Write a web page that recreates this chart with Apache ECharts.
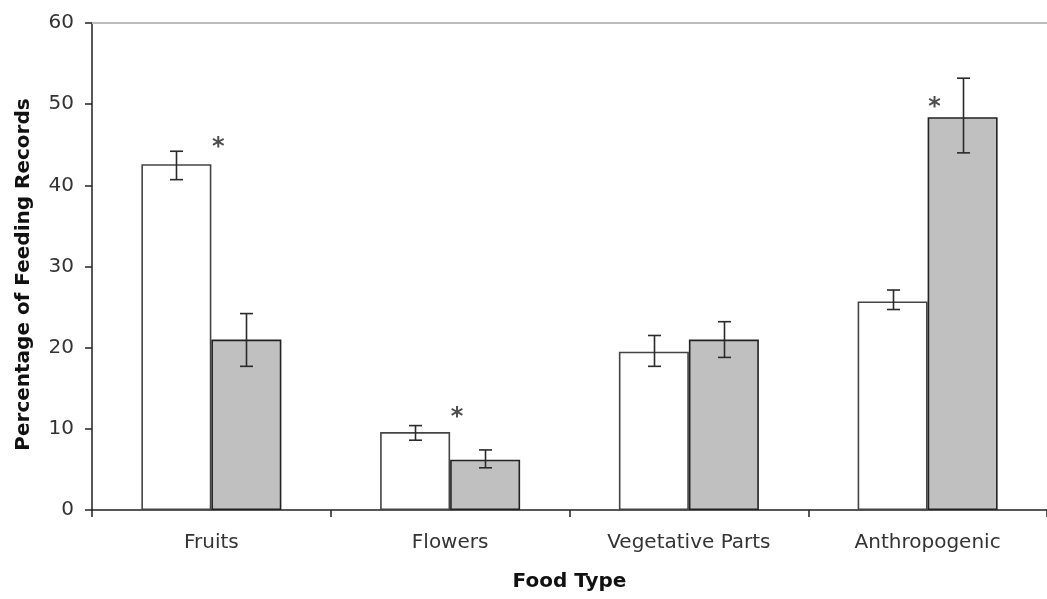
<!DOCTYPE html>
<html>
<head>
<meta charset="utf-8">
<script src="https://cdn.jsdelivr.net/npm/echarts@6/dist/echarts.min.js"></script>
<style>
  html, body { margin: 0; padding: 0; background: #fff; }
  #chart { width: 1047px; height: 599px; }
</style>
</head>
<body>
<div id="chart"></div>
<script>
// Food types on the x axis
const categories = ['Fruits', 'Flowers', 'Vegetative Parts', 'Anthropogenic'];

// First group (white bars): mean and error range
const whiteValues = [42.6, 9.6, 19.5, 25.7];
const whiteLow    = [40.7, 8.6, 17.7, 24.7];
const whiteHigh   = [44.2, 10.4, 21.5, 27.1];

// Second group (grey bars): mean and error range
const greyValues = [21.0, 6.2, 21.0, 48.4];
const greyLow    = [17.7, 5.2, 18.8, 44.0];
const greyHigh   = [24.2, 7.4, 23.2, 53.2];

// Height of the significance asterisk for each food type (null = none)
const starLevels = [45.2, 12.0, null, 50.2];

// Value axis range
const yMin = 0, yMax = 60, yStep = 10;

const BAR_W = 70;
const CAP_W = 13;
const FONT = "'DejaVu Sans', 'Liberation Sans', Arial, sans-serif";
const AXIS_COLOR = '#222';

function errorSeries(low, high, dir) {
  return {
    type: 'custom',
    z: 5,
    silent: true,
    data: categories.map((c, i) => [i, low[i], high[i]]),
    encode: { x: 0, y: [1, 2] },
    renderItem: function (params, api) {
      const i = api.value(0);
      const lo = api.coord([i, api.value(1)]);
      const hi = api.coord([i, api.value(2)]);
      const x = Math.round(lo[0] + dir * BAR_W / 2) + 0.5;
      const style = { stroke: '#2a2a2a', lineWidth: 1.6 };
      return {
        type: 'group',
        children: [
          { type: 'line', shape: { x1: x, y1: hi[1], x2: x, y2: lo[1] }, style: style },
          { type: 'line', shape: { x1: x - CAP_W / 2, y1: hi[1], x2: x + CAP_W / 2, y2: hi[1] }, style: style },
          { type: 'line', shape: { x1: x - CAP_W / 2, y1: lo[1], x2: x + CAP_W / 2, y2: lo[1] }, style: style }
        ]
      };
    }
  };
}

const chart = echarts.init(document.getElementById('chart'), null, { renderer: 'canvas' });

chart.setOption({
  animation: false,
  backgroundColor: '#fff',
  grid: { left: 92, top: 23, width: 956, height: 487, containLabel: false },
  xAxis: [
    {
      type: 'category',
      data: categories,
      position: 'bottom',
      axisLine: { lineStyle: { color: AXIS_COLOR, width: 1.5 } },
      axisTick: { show: true, length: 7, lineStyle: { color: AXIS_COLOR, width: 1.5 } },
      axisLabel: { fontFamily: FONT, fontSize: 20, color: '#333', margin: 23 },
      name: 'Food Type',
      nameLocation: 'middle',
      nameGap: 62,
      nameTextStyle: { fontFamily: FONT, fontSize: 20, fontWeight: 'bold', color: '#111' }
    },
    {
      type: 'category',
      data: categories,
      position: 'top',
      axisLine: { show: true, lineStyle: { color: '#bcbcbc', width: 2 } },
      axisTick: { show: false },
      axisLabel: { show: false }
    }
  ],
  yAxis: {
    type: 'value',
    min: yMin,
    max: yMax,
    interval: yStep,
    axisLine: { show: true, lineStyle: { color: AXIS_COLOR, width: 1.5 } },
    axisTick: { show: true, length: 7, lineStyle: { color: AXIS_COLOR, width: 1.5 } },
    splitLine: { show: false },
    axisLabel: { fontFamily: FONT, fontSize: 20, color: '#333', margin: 18 },
    name: 'Percentage of Feeding Records',
    nameLocation: 'middle',
    nameRotate: 90,
    nameGap: 58,
    nameTextStyle: { fontFamily: FONT, fontSize: 20, fontWeight: 'bold', color: '#111', padding: [0, 16, 0, 0] }
  },
  series: [
    {
      type: 'bar',
      data: whiteValues,
      barWidth: BAR_W,
      barGap: '0%',
      itemStyle: { color: '#ffffff', borderColor: '#444', borderWidth: 1.6 }
    },
    {
      type: 'bar',
      data: greyValues,
      barWidth: BAR_W,
      barGap: '0%',
      itemStyle: { color: '#c0c0c0', borderColor: '#222', borderWidth: 1.6 }
    },
    errorSeries(whiteLow, whiteHigh, -1),
    errorSeries(greyLow, greyHigh, 1),
    {
      type: 'scatter',
      z: 6,
      silent: true,
      symbolSize: 0,
      data: starLevels.map((v, i) => (v == null ? null : [i, v])).filter(d => d !== null),
      label: {
        show: true,
        position: 'inside',
        formatter: '*',
        fontFamily: FONT,
        fontSize: 24,
        fontWeight: 'bold',
        color: '#222',
        offset: [7, 5]
      }
    }
  ]
});
</script>
</body>
</html>
